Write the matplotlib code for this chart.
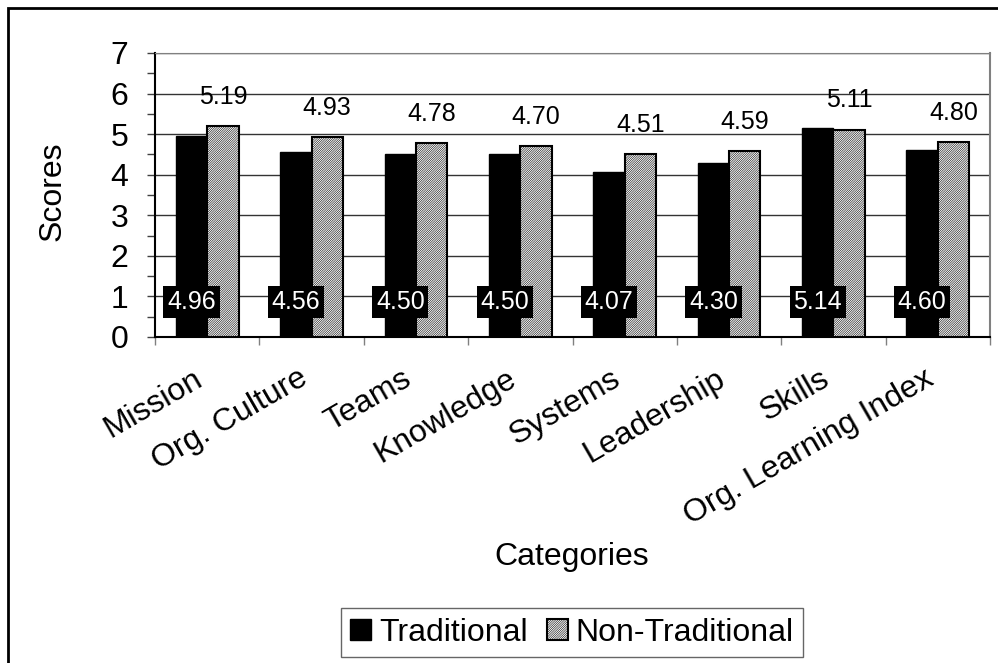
import matplotlib
matplotlib.use('Agg')
from matplotlib import pyplot as plt
from matplotlib.patches import Rectangle
from matplotlib.transforms import ScaledTranslation
import numpy as np

categories = ['Mission', 'Org. Culture', 'Teams', 'Knowledge', 'Systems',
              'Leadership', 'Skills', 'Org. Learning Index']
traditional = [4.96, 4.56, 4.50, 4.50, 4.07, 4.30, 5.14, 4.60]
non_traditional = [5.19, 4.93, 4.78, 4.70, 4.51, 4.59, 5.11, 4.80]
y_ticks = [0, 1, 2, 3, 4, 5, 6, 7]

plt.rcParams['font.family'] = ['Liberation Sans', 'DejaVu Sans']
plt.rcParams['hatch.linewidth'] = 0.4

W, H = 998, 663
fig = plt.figure(figsize=(W / 100, H / 100), dpi=100)
ax = fig.add_axes([155 / W, 1 - 337 / H, (990 - 155) / W, (337 - 53) / H])

x = np.arange(len(categories))
bw = 0.3
b1 = ax.bar(x - bw / 2, traditional, bw, color='black', edgecolor='black',
            linewidth=1, label='Traditional', zorder=3)
b2 = ax.bar(x + bw / 2, non_traditional, bw, color='white', edgecolor='black',
            hatch='///////////////', linewidth=1.5, label='Non-Traditional',
            zorder=3)

for i in range(len(categories)):
    ax.text(x[i] - bw / 2, 0.86, '%.2f' % traditional[i], color='white',
            fontsize=18, ha='center', va='center', zorder=5,
            bbox=dict(boxstyle='square,pad=0.15', fc='black', ec='none'))
    ax.text(x[i] + bw / 2, non_traditional[i] + 0.72, '%.2f' % non_traditional[i],
            color='black', fontsize=18, ha='center', va='center', zorder=5)

ax.set_xlim(-0.5, len(categories) - 0.5)
ax.set_ylim(0, 7)
ax.set_yticks(y_ticks)
ax.set_yticks(np.arange(0.5, 7, 1), minor=True)
ax.set_xticks(x)
ax.set_xticklabels(categories, rotation=30, ha='right', rotation_mode='anchor')
ax.set_xticks(np.arange(-0.5, len(categories), 1), minor=True)
ax.tick_params(axis='x', which='major', length=0, labelsize=23, pad=14)
ax.tick_params(axis='x', which='minor', length=6, color='#808080', width=1)
ax.tick_params(axis='y', which='both', length=6, color='#404040', width=1,
               labelsize=23, pad=13)
ax.yaxis.grid(True, which='major', color='#333333', linewidth=1, zorder=0)
ax.set_axisbelow(True)

# shift category labels down-left like the original
shift = ScaledTranslation(-14 / 100, -7 / 100, fig.dpi_scale_trans)
for lab in ax.get_xticklabels():
    lab.set_transform(lab.get_transform() + shift)

ax.spines['left'].set_color('black')
ax.spines['left'].set_linewidth(1.5)
ax.spines['bottom'].set_color('black')
ax.spines['bottom'].set_linewidth(1.5)
ax.spines['top'].set_color('#808080')
ax.spines['right'].set_color('#808080')
ax.spines['right'].set_linewidth(1.5)

fig.text(53 / W, 1 - 191 / H, 'Scores', rotation=90, fontsize=23,
         ha='center', va='center')
fig.text(572 / W, 1 - 557 / H, 'Categories', fontsize=23, ha='center', va='center')

leg = fig.legend(handles=[b1, b2], loc='upper center', ncol=2,
                 bbox_to_anchor=(572 / W, 1 - 608 / H), fontsize=23,
                 frameon=True, fancybox=False, edgecolor='#404040',
                 handlelength=0.65, handleheight=0.65, handletextpad=0.25,
                 columnspacing=0.6, borderpad=0.3, borderaxespad=0)
leg.get_frame().set_linewidth(1)

fig.patches.append(Rectangle((8 / W, -0.1), 1.2, 1 - 8 / H + 0.1,
                             transform=fig.transFigure, fill=False,
                             edgecolor='black', linewidth=2))

fig.savefig('out.png', dpi=100)
